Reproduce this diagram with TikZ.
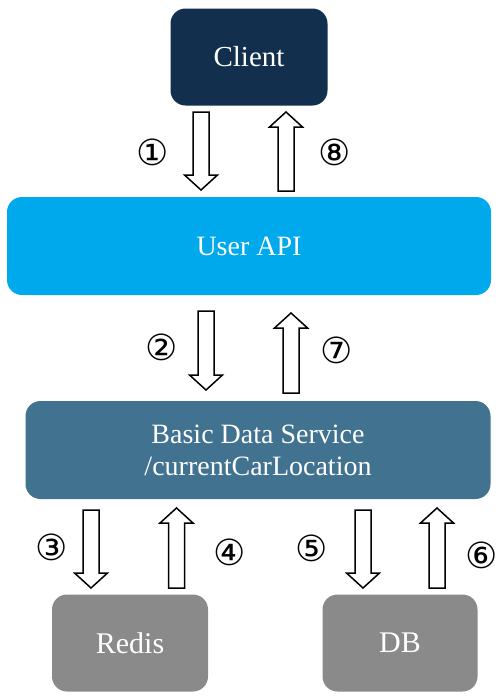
\documentclass[tikz,border=0pt]{standalone}
\usepackage{fontspec}
\setmainfont{Liberation Serif}
\newfontfamily\circfont{DejaVu Sans}
\usepackage{xcolor}
\usepackage{tikz}
\usetikzlibrary{shapes,positioning,calc}

\definecolor{clientblue}{HTML}{12304D}
\definecolor{apiblue}{HTML}{00A9EC}
\definecolor{serviceblue}{HTML}{41728F}
\definecolor{storegray}{HTML}{8A8A8A}

% hollow block arrow between two named points
\newcommand{\blkarrow}[2]{%
    \draw[blockarrow] let \p1=(#1), \p2=(#2), \n1={ifthenelse(\y2<\y1,1,-1)} in
        (\x1-8pt,\y1) -- (\x1-8pt,{\y2+(\n1)*15pt}) -- (\x1-16.5pt,{\y2+(\n1)*15pt}) -- (\x2,\y2)
        -- (\x1+16.5pt,{\y2+(\n1)*15pt}) -- (\x1+8pt,{\y2+(\n1)*15pt}) -- (\x1+8pt,\y1) -- cycle;
}

\begin{document}
\begin{tikzpicture}[x=1pt,y=-1pt,
    box/.style={rounded corners=15pt, text=white, inner sep=0pt, align=center},
    blockarrow/.style={draw=black, fill=white, line width=1.5pt, line join=miter},
    step num/.style={font=\circfont\fontsize{36}{40}\selectfont}]
    \useasboundingbox (0,0) rectangle (500,696);

    % boxes
    \node[box, fill=clientblue, minimum width=157pt, minimum height=97pt,
          font=\fontsize{29}{34}\selectfont] (client) at (249,57) {Client};
    \node[box, fill=apiblue, minimum width=484pt, minimum height=98pt,
          font=\fontsize{28}{31}\selectfont] (api) at (249,246) {User API};
    \node[box, fill=serviceblue, minimum width=465pt, minimum height=98pt,
          font=\fontsize{28}{32}\selectfont] (service) at (258,450)
          {Basic Data Service\\/currentCarLocation};
    \node[box, fill=storegray, minimum width=156pt, minimum height=97pt,
          font=\fontsize{30}{34}\selectfont] (redis) at (130,643) {Redis};
    \node[box, fill=storegray, minimum width=155pt, minimum height=97pt,
          font=\fontsize{30}{34}\selectfont] (db) at (400,643) {DB};

    % arrows: number / x / from y / to y
    \foreach \k/\xx/\ya/\yb in {1/201/112/190, 8/286/191/112,
                               2/206/311/390, 7/291/393/313,
                               3/91/510/588, 4/176.5/588/508,
                               5/363/510/588, 6/437/588/508} {
        \coordinate (from\k) at (\xx,\ya);
        \coordinate (to\k) at (\xx,\yb);
        \blkarrow{from\k}{to\k}
    }

    % step numbers
    \node[step num] (s1) at (153,152) {①};
    \node[step num] (s8) at (335,152) {⑧};
    \node[step num] (s2) at (162,347) {②};
    \node[step num] (s7) at (337,350) {⑦};
    \node[step num] (s3) at (52,547) {③};
    \node[step num] (s4) at (230,552) {④};
    \node[step num] (s5) at (312,548) {⑤};
    \node[step num] (s6) at (482,555) {⑥};
\end{tikzpicture}
\end{document}
